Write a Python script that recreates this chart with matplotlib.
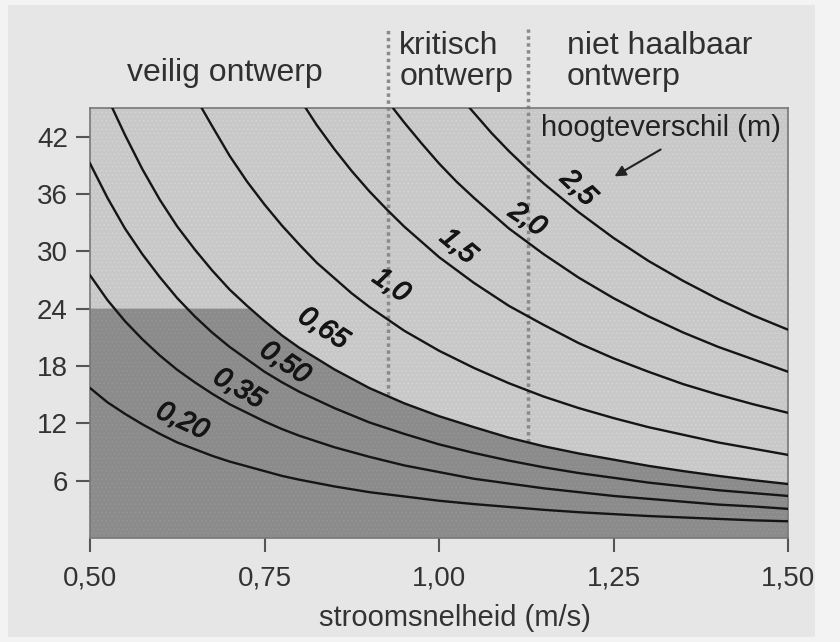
import numpy as np
import matplotlib
matplotlib.use("Agg")
import matplotlib.pyplot as plt
import matplotlib.patheffects as pe
from matplotlib.patches import Rectangle, Polygon

plt.rcParams['font.family'] = ['Liberation Sans', 'DejaVu Sans']
plt.rcParams['hatch.linewidth'] = 0.6

# curves: stroomsnelheid (m/s) -> y value, one per hoogteverschil (m)
x_low = [0.500, 0.525, 0.550, 0.575, 0.600, 0.625, 0.650, 0.675, 0.700, 0.725, 0.750, 0.775,
         0.800, 0.85, 0.90, 0.95, 1.00, 1.05, 1.10, 1.15, 1.20, 1.25, 1.30, 1.35, 1.40, 1.45, 1.50]
y_020 = [15.7, 14.2, 13.0, 11.9, 10.9, 10.0, 9.3, 8.6, 8.0, 7.5, 7.0, 6.5,
         6.1, 5.4, 4.8, 4.35, 3.9, 3.55, 3.25, 2.95, 2.7, 2.5, 2.3, 2.15, 2.0, 1.85, 1.75]
y_035 = [27.5, 24.9, 22.7, 20.8, 19.1, 17.6, 16.3, 15.1, 14.0, 13.1, 12.2, 11.4,
         10.7, 9.5, 8.5, 7.6, 6.9, 6.2, 5.7, 5.2, 4.8, 4.4, 4.1, 3.8, 3.5, 3.3, 3.05]
y_050 = [39.2, 35.6, 32.4, 29.7, 27.3, 25.1, 23.2, 21.5, 20.0, 18.7, 17.4, 16.3,
         15.3, 13.6, 12.1, 10.9, 9.8, 8.9, 8.1, 7.4, 6.8, 6.3, 5.8, 5.4, 5.0, 4.7, 4.4]
x_065 = [0.532, 0.550, 0.575, 0.600, 0.625, 0.650, 0.675, 0.700, 0.725, 0.750, 0.775, 0.800,
         0.85, 0.90, 0.95, 1.00, 1.05, 1.10, 1.15, 1.20, 1.25, 1.30, 1.35, 1.40, 1.45, 1.50]
y_065 = [45.0, 42.2, 38.6, 35.4, 32.6, 30.2, 28.0, 26.0, 24.3, 22.7, 21.2, 19.9,
         17.65, 15.7, 14.1, 12.75, 11.6, 10.5, 9.6, 8.85, 8.2, 7.55, 7.0, 6.5, 6.05, 5.65]
x_100 = [0.660, 0.675, 0.700, 0.725, 0.750, 0.775, 0.800, 0.825, 0.850, 0.875, 0.900,
         0.95, 1.00, 1.05, 1.10, 1.15, 1.20, 1.25, 1.30, 1.35, 1.40, 1.45, 1.50]
y_100 = [45.0, 43.1, 40.0, 37.3, 34.9, 32.7, 30.7, 28.8, 27.2, 25.6, 24.2,
         21.7, 19.6, 17.8, 16.2, 14.8, 13.6, 12.55, 11.6, 10.8, 10.0, 9.35, 8.7]
x_150 = [0.809, 0.825, 0.850, 0.875, 0.900, 0.925, 0.950, 0.975,
         1.00, 1.05, 1.10, 1.15, 1.20, 1.25, 1.30, 1.35, 1.40, 1.45, 1.50]
y_150 = [45.0, 43.2, 40.7, 38.4, 36.3, 34.4, 32.6, 31.0,
         29.4, 26.7, 24.3, 22.3, 20.4, 18.8, 17.4, 16.1, 15.0, 14.0, 13.1]
x_200 = [0.934, 0.950, 0.975, 1.00, 1.025, 1.05, 1.10, 1.15, 1.20, 1.25, 1.30, 1.35, 1.40, 1.45, 1.50]
y_200 = [45.0, 43.5, 41.3, 39.2, 37.3, 35.6, 32.4, 29.7, 27.25, 25.1, 23.2, 21.5, 20.0, 18.7, 17.4]
x_250 = [1.044, 1.075, 1.10, 1.125, 1.15, 1.20, 1.25, 1.30, 1.35, 1.40, 1.45, 1.50]
y_250 = [45.0, 42.4, 40.5, 38.75, 37.1, 34.1, 31.4, 29.0, 26.9, 25.0, 23.3, 21.8]

curves = [(x_low, y_020), (x_low, y_035), (x_low, y_050), (x_065, y_065),
          (x_100, y_100), (x_150, y_150), (x_200, y_200), (x_250, y_250)]
curve_labels = ['0,20', '0,35', '0,50', '0,65', '1,0', '1,5', '2,0', '2,5']
label_x = [0.632, 0.713, 0.779, 0.834, 0.931, 1.027, 1.126, 1.199]
label_y = [12.2, 15.6, 18.3, 21.9, 26.4, 30.5, 33.3, 36.6]
label_rot = [-25, -30, -34, -33, -35, -40, -34, -44]

# zone limits
dark_top = 24
dark_end = 0.73
grens_x = [0.927, 1.127]
grens_bottom = [15.0, 10.0]

xticks = [0.50, 0.75, 1.00, 1.25, 1.50]
xticklabels = ['0,50', '0,75', '1,00', '1,25', '1,50']
yticks = [6, 12, 18, 24, 30, 36, 42]

fig = plt.figure(figsize=(8.4, 6.42), dpi=100, facecolor='#f3f3f3')
fig.patches.append(Rectangle((8 / 840, 5 / 642), 807 / 840, 632 / 642,
                             transform=fig.transFigure, facecolor='#e6e6e6',
                             edgecolor='none', zorder=-5))
ax = fig.add_axes([90 / 840, 1 - 538 / 642, 698 / 840, 430 / 642])
ax.set_zorder(2)
ax.set_facecolor('#c8c8c8')
ax.set_xlim(0.5, 1.5)
ax.set_ylim(0, 45)

# light texture over whole plot area
ax.add_patch(Rectangle((0, 0), 1, 1, transform=ax.transAxes, facecolor='none',
                       edgecolor='#d4d4d4', hatch='....', lw=0, zorder=0.5))

# dark (veilig) region
dark_pts = [(0.5, 0), (0.5, dark_top), (dark_end, dark_top)]
dark_pts += [(x, y) for x, y in zip(x_065, y_065) if x > dark_end]
dark_pts += [(1.5, 0)]
ax.add_patch(Polygon(dark_pts, closed=True, facecolor='#8b8b8b', edgecolor='#959595',
                     hatch='....', lw=0, zorder=1))

for (xs, ys) in curves:
    ax.plot(xs, ys, color='#151515', lw=1.7, zorder=3)

thick = [pe.withStroke(linewidth=0.9, foreground='#151515')]
for t, lx, ly, r in zip(curve_labels, label_x, label_y, label_rot):
    ax.text(lx, ly, t, rotation=r, fontsize=20, style='italic', ha='center', va='center',
            color='#151515', zorder=4, rotation_mode='anchor', path_effects=thick)

for gx, gb in zip(grens_x, grens_bottom):
    ax.plot([gx, gx], [gb, 53.3], color='#8a8a8a', lw=2.5, ls=(0, (1, 1)),
            clip_on=False, zorder=2)

ax.text(0.693, 48.7, 'veilig ontwerp', fontsize=23, ha='center', va='center', color='#303030')
ax.text(0.943, 49.9, 'kritisch\nontwerp', fontsize=23, ha='left', va='center',
        color='#303030', linespacing=1.05)
ax.text(1.183, 49.9, 'niet haalbaar\nontwerp', fontsize=23, ha='left', va='center',
        color='#303030', linespacing=1.05)

ax.text(1.49, 42.9, 'hoogteverschil (m)', fontsize=21, ha='right', va='center', color='#222222')
ax.annotate('', xy=(1.248, 37.7), xytext=(1.321, 40.8),
            arrowprops=dict(arrowstyle='-|>', color='#222222', lw=1.5, mutation_scale=16))

ax.set_xticks(xticks)
ax.set_xticklabels(xticklabels)
ax.set_yticks(yticks)
ax.tick_params(axis='both', direction='out', length=10, width=1.5, color='#555555',
               labelsize=20, labelcolor='#333333')
ax.tick_params(axis='y', pad=6)
ax.tick_params(axis='x', pad=10)
for s in ax.spines.values():
    s.set_color('#777777')
    s.set_linewidth(1.2)

fig.text(455 / 840, 1 - 618 / 642, 'stroomsnelheid (m/s)', fontsize=21, ha='center',
         va='center', color='#333333')

fig.savefig('out.png', dpi=100, facecolor=fig.get_facecolor())
